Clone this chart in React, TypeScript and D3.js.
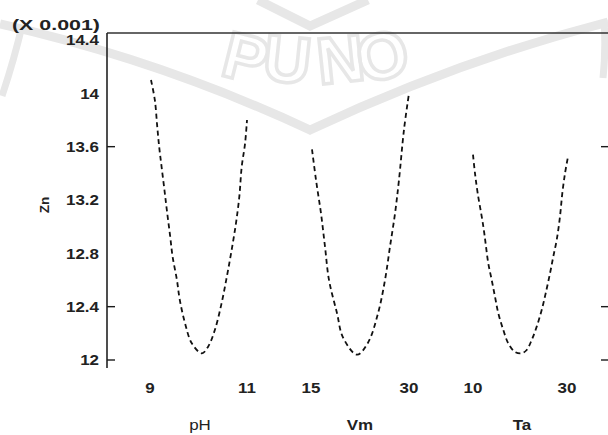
import React from "react";
import * as d3 from "d3";

// Zn response (x 0.001) across each factor's range
const phValues = [9.0, 9.08, 9.13, 9.17, 9.22, 9.28, 9.33, 9.4, 9.45, 9.54, 9.6, 9.71, 9.85, 10.06, 10.19, 10.33, 10.47, 10.58, 10.68, 10.77, 10.84, 10.89, 10.96, 11.0];
const phZn = [14.1, 13.95, 13.75, 13.6, 13.45, 13.275, 13.125, 12.925, 12.775, 12.6, 12.45, 12.275, 12.125, 12.05, 12.1, 12.225, 12.425, 12.625, 12.825, 13.025, 13.225, 13.45, 13.625, 13.8];

const vmValues = [15.0, 15.62, 16.39, 17.01, 17.63, 18.87, 19.79, 21.96, 23.66, 25.21, 26.29, 27.06, 27.84, 28.45, 29.23, 30.0];
const vmZn = [13.58, 13.35, 13.1, 12.85, 12.6, 12.35, 12.17, 12.04, 12.13, 12.35, 12.6, 12.85, 13.1, 13.35, 13.73, 14.0];

const taValues = [10.0, 10.42, 10.99, 11.96, 12.38, 12.74, 13.22, 13.94, 14.63, 15.33, 16.38, 17.43, 18.84, 20.25, 21.3, 22.36, 23.41, 24.46, 25.3, 26.21, 26.9, 27.62, 28.31, 28.8, 29.37, 30.0];
const taZn = [13.54, 13.4, 13.25, 13.05, 12.95, 12.85, 12.725, 12.6, 12.475, 12.35, 12.225, 12.125, 12.06, 12.05, 12.075, 12.15, 12.25, 12.375, 12.5, 12.65, 12.775, 12.9, 13.075, 13.25, 13.4, 13.525];

// factor names and the low / high levels shown under each panel
const factorNames = ["pH", "Vm", "Ta"];
const factorLow = [9, 15, 10];
const factorHigh = [11, 30, 30];

const yTicks = [12, 12.4, 12.8, 13.2, 13.6, 14, 14.4];
const yTickLabels = ["12", "12.4", "12.8", "13.2", "13.6", "14", "14.4"];
const yTickMarks = [12, 12.4, 13.6];

const W = 608;
const H = 435;
const axisX = 107;
const topY = 33;
const bottomY = 368;

const font = "'Liberation Sans', Arial, sans-serif";
const ink = "#1a1a1a";
const wm = "#e7e7e7";
const SX = 1.13; // slightly widened lettering

type LabelProps = {
  x: number;
  y: number;
  anchor?: "start" | "middle" | "end";
  size?: number;
  bold?: boolean;
  rotate?: number;
  children: React.ReactNode;
};

function Label({ x, y, anchor = "middle", size = 15, bold = true, rotate = 0, children }: LabelProps) {
  return (
    <g transform={`translate(${x},${y}) rotate(${rotate}) scale(${SX},1)`}>
      <text
        textAnchor={anchor}
        dy="0.36em"
        fontFamily={font}
        fontWeight={bold ? "bold" : "normal"}
        fontSize={size}
        fill="#222"
      >
        {children}
      </text>
    </g>
  );
}

export default function App() {
  const y = d3.scaleLinear().domain([12, 14.4]).range([360, 40]);

  const panels = [
    { xs: phValues, ys: phZn, range: [151, 247], label: [150, 247], bold: false, nameX: 200 },
    { xs: vmValues, ys: vmZn, range: [312, 409], label: [311, 409], bold: true, nameX: 360 },
    { xs: taValues, ys: taZn, range: [473, 568], label: [473, 567], bold: true, nameX: 522 },
  ].map((p, i) => {
    const x = d3.scaleLinear().domain([factorLow[i], factorHigh[i]]).range(p.range);
    const line = d3
      .line<number>()
      .x((_, k) => x(p.xs[k]))
      .y((v) => y(v))
      .curve(d3.curveCatmullRom);
    return { ...p, x, path: line(p.ys) || "", i };
  });

  return (
    <svg
      width={W}
      height={H}
      viewBox={`0 0 ${W} ${H}`}
      style={{ position: "fixed", left: 0, top: 0, background: "#fff" }}
    >
      <rect x={0} y={0} width={W} height={H} fill="#fff" />

      {/* faint background emblem */}
      <g fill="none" stroke={wm} strokeLinecap="butt">
        <path d="M0,24 Q160,60 310,130 Q460,60 608,22" strokeWidth={9} />
        <path d="M258,0 L310,26 L368,0" strokeWidth={9} />
        <path d="M2,96 Q14,60 22,26" strokeWidth={7} />
        <path d="M604,20 Q606,50 603,78" strokeWidth={7} />
        <g fontFamily={font} fontWeight="bold" fontSize={66} strokeWidth={3.5}>
          <text x={0} y={0} transform="translate(240,80) rotate(14)" textAnchor="middle">P</text>
          <text x={0} y={0} transform="translate(285,82) rotate(6)" textAnchor="middle">U</text>
          <text x={0} y={0} transform="translate(343,82) rotate(-6)" textAnchor="middle">N</text>
          <text x={0} y={0} transform="translate(388,78) rotate(-14)" textAnchor="middle">O</text>
        </g>
      </g>

      {/* frame */}
      <line x1={axisX} y1={topY} x2={W} y2={topY} stroke="#333" strokeWidth={1.6} />
      <line x1={axisX} y1={topY} x2={axisX} y2={bottomY} stroke="#222" strokeWidth={1.6} />

      {/* axis ticks and labels */}
      {yTickMarks.map((t) => (
        <line key={"lt" + t} x1={axisX} x2={axisX + 8} y1={y(t)} y2={y(t)} stroke={ink} strokeWidth={1.4} />
      ))}
      {yTickMarks.map((t) => (
        <line key={"rt" + t} x1={W - 7} x2={W} y1={y(t)} y2={y(t)} stroke={ink} strokeWidth={1.4} />
      ))}
      {yTicks.map((t, k) => (
        <Label key={"yl" + t} x={99} y={y(t)} anchor="end">
          {yTickLabels[k]}
        </Label>
      ))}

      <g transform="translate(12,25)">
        <text
          dy="0.36em"
          fontFamily={font}
          fontWeight="bold"
          fontSize={15}
          fill="#222"
          textLength={88}
          lengthAdjust="spacingAndGlyphs"
        >
          (X 0.001)
        </text>
      </g>
      <Label x={45} y={205} rotate={-90} size={12}>
        Zn
      </Label>

      {/* effect curves with factor levels and names */}
      {panels.map((p) => (
        <g key={"p" + p.i}>
          <path d={p.path} fill="none" stroke="#111" strokeWidth={1.8} strokeDasharray="5 3.5" />
          <Label x={p.label[0]} y={388}>{factorLow[p.i]}</Label>
          <Label x={p.label[1]} y={388}>{factorHigh[p.i]}</Label>
          <Label x={p.nameX} y={425} bold={p.bold}>
            {factorNames[p.i]}
          </Label>
        </g>
      ))}
    </svg>
  );
}
